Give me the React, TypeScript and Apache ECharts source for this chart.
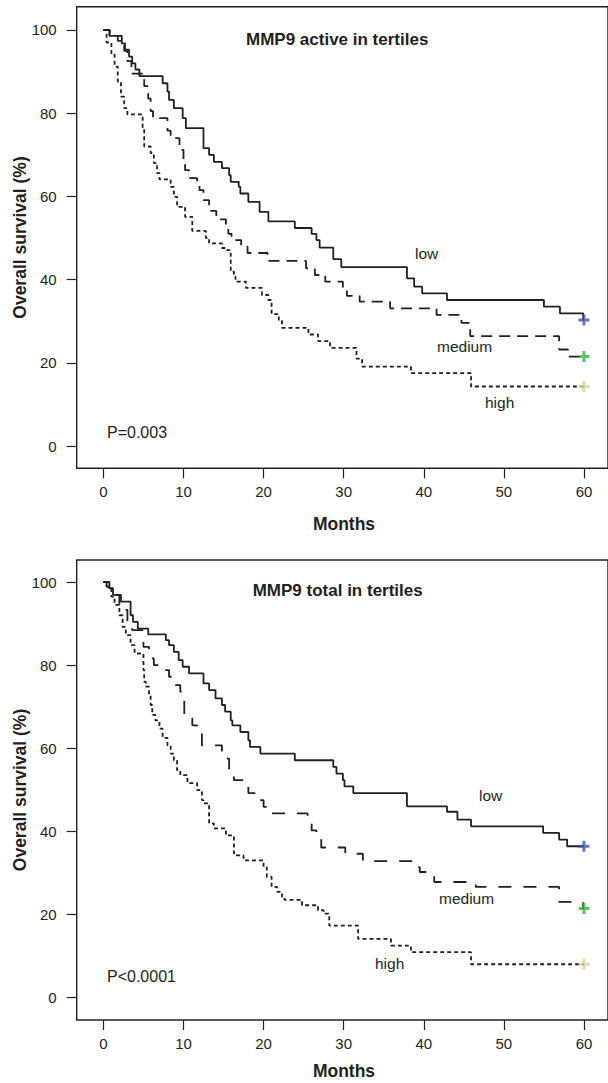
import React, { useEffect, useRef } from "react";
import * as echarts from "echarts";

// ---------- data (months, survival %) ----------
const xTicks = [0, 10, 20, 30, 40, 50, 60];
const yTicks = [0, 20, 40, 60, 80, 100];
const followUpEnd = 60;

// Top panel: MMP9 active in tertiles
const activeLowMonths = [0, 0.75, 2.3, 2.7, 3.2, 3.6, 4.0, 4.5, 7.4, 8.0, 8.2, 8.8, 9.9, 10.3, 12.5, 13.2, 13.8, 14.8, 15.7, 15.9, 16.9, 17.1, 18.1, 19.5, 20.6, 23.9, 26.0, 26.6, 27.0, 28.7, 29.7, 37.9, 38.8, 39.8, 42.9, 55.0, 57.0, 59.9];
const activeLowSurv = [100, 98.6, 96.8, 95.3, 93.6, 92.0, 90.5, 88.9, 87.2, 85.2, 83.2, 81.2, 78.8, 76.4, 71.6, 70.0, 68.3, 66.8, 65.1, 63.5, 62.3, 60.7, 58.7, 56.3, 54.0, 52.4, 51.0, 49.5, 47.7, 44.9, 43.0, 40.3, 38.3, 36.7, 35.1, 33.5, 31.9, 30.3];

const activeMedMonths = [0, 0.8, 1.8, 2.6, 3.0, 3.5, 5.1, 5.6, 5.9, 6.2, 8.0, 8.4, 9.5, 10.0, 10.2, 10.7, 11.7, 12.0, 12.5, 13.2, 14.1, 15.3, 15.6, 16.0, 17.2, 18.0, 20.5, 25.3, 26.4, 27.7, 29.9, 30.4, 32.0, 35.8, 41.6, 44.7, 45.8, 56.9, 58.0];
const activeMedSurv = [100, 98.6, 97.4, 95.0, 92.5, 89.5, 86.5, 83.5, 80.5, 78.8, 75.8, 74.0, 71.2, 68.5, 66.3, 64.4, 62.7, 61.5, 59.1, 56.5, 54.5, 52.5, 51.0, 49.5, 47.9, 46.4, 44.5, 42.7, 41.1, 39.5, 37.8, 36.1, 34.7, 33.1, 31.5, 29.6, 26.4, 23.2, 21.5];

const activeHighMonths = [0, 0.4, 1.0, 1.4, 1.8, 2.2, 2.6, 3.0, 4.9, 5.1, 5.9, 6.3, 6.7, 7.0, 8.4, 8.8, 9.2, 10.2, 11.1, 12.8, 13.2, 14.8, 15.4, 15.9, 16.3, 16.5, 17.8, 19.8, 20.6, 21.0, 21.9, 22.3, 25.6, 26.8, 28.3, 31.6, 32.3, 38.4, 45.9];
const activeHighSurv = [100, 97.0, 94.4, 91.2, 87.6, 84.0, 81.2, 79.7, 76.0, 72.0, 70.4, 68.0, 65.6, 64.1, 62.3, 59.9, 57.5, 55.1, 51.7, 50.0, 48.7, 47.6, 47.1, 41.9, 40.7, 39.5, 38.0, 36.3, 35.1, 31.7, 30.3, 28.4, 26.8, 25.2, 23.6, 21.0, 19.1, 17.5, 14.3];

// Bottom panel: MMP9 total in tertiles
const totalLowMonths = [0, 0.75, 1.2, 2.2, 3.4, 3.7, 4.3, 5.6, 7.8, 8.2, 8.8, 9.4, 9.9, 10.7, 12.5, 13.2, 14.0, 14.8, 15.2, 15.9, 16.1, 17.1, 18.1, 18.3, 19.6, 23.9, 28.7, 29.1, 29.9, 30.1, 31.2, 37.9, 42.9, 44.2, 45.9, 54.9, 56.9, 57.9];
const totalLowSurv = [100, 98.5, 96.9, 95.3, 92.0, 90.4, 88.8, 87.4, 86.0, 84.8, 83.2, 81.2, 79.6, 78.0, 75.6, 74.0, 72.0, 70.4, 68.8, 66.7, 65.5, 63.9, 61.9, 60.3, 58.7, 57.1, 55.5, 53.9, 52.3, 50.8, 49.2, 46.0, 44.7, 42.8, 41.2, 39.6, 38.0, 36.4];

const totalMedMonths = [0, 0.4, 0.75, 2.0, 2.4, 3.0, 3.6, 5.0, 5.7, 6.3, 7.7, 8.2, 9.0, 9.6, 10.1, 11.1, 11.7, 12.3, 14.8, 15.4, 15.7, 16.3, 17.5, 18.1, 19.1, 20.0, 21.0, 25.5, 26.0, 26.6, 27.2, 30.2, 32.4, 38.8, 39.5, 41.3, 46.5, 56.9, 59.9];
const totalMedSurv = [100, 98.9, 96.9, 94.5, 93.3, 89.6, 88.4, 84.4, 81.6, 80.0, 78.8, 77.2, 75.2, 73.6, 67.2, 65.5, 63.9, 60.7, 59.1, 57.5, 54.3, 52.3, 51.1, 49.2, 47.5, 45.9, 44.3, 43.0, 40.2, 38.3, 36.1, 34.6, 32.8, 31.4, 30.2, 27.8, 26.6, 23.0, 21.4];

const totalHighMonths = [0, 0.4, 1.0, 1.4, 2.0, 2.4, 2.8, 3.4, 3.9, 5.0, 5.1, 5.3, 5.7, 5.9, 6.1, 6.5, 7.0, 7.4, 8.0, 8.4, 8.8, 9.2, 9.6, 10.5, 11.7, 12.3, 12.5, 13.2, 13.8, 15.3, 16.3, 16.5, 17.5, 20.0, 20.4, 21.0, 21.7, 22.3, 22.6, 24.8, 26.8, 27.5, 28.2, 31.8, 35.9, 38.4, 45.9];
const totalHighSurv = [100, 98.9, 96.5, 94.5, 92.0, 89.2, 87.2, 84.8, 82.8, 78.8, 76.0, 74.8, 72.8, 70.4, 68.0, 66.7, 64.7, 62.5, 60.7, 58.7, 57.1, 54.7, 53.5, 51.6, 49.9, 47.5, 46.7, 41.9, 40.7, 39.0, 34.7, 34.2, 33.0, 31.4, 29.0, 26.6, 25.4, 24.2, 23.5, 22.2, 21.0, 20.2, 17.3, 14.1, 12.5, 10.9, 8.0];

const groupNames = ["low", "medium", "high"];
const censorColors = ["#3a5ba8", "#3bb24a", "#d6d29c"];

const INK = "#231f20";
const FONT = "Liberation Sans, Arial, sans-serif";
const PLUS = "path://M4,0H7V4H11V7H7V11H4V7H0V4H4Z";

function steps(ts: number[], ss: number[], end: number) {
  const pts: number[][] = [[ts[0], ss[0]]];
  for (let i = 1; i < ts.length; i++) {
    pts.push([ts[i], ss[i - 1]]);
    pts.push([ts[i], ss[i]]);
  }
  pts.push([end, ss[ss.length - 1]]);
  return pts;
}

export default function App() {
  const ref = useRef<HTMLDivElement>(null);
  useEffect(() => {
    if (!ref.current) return;
    const chart = echarts.init(ref.current, null, { renderer: "svg" });

    const panels = [
      { curves: [[activeLowMonths, activeLowSurv], [activeMedMonths, activeMedSurv], [activeHighMonths, activeHighSurv]], top: 6.7, height: 461.6, ymin: -5.36, ymax: 105.6, medDash: [11, 7] },
      { curves: [[totalLowMonths, totalLowSurv], [totalMedMonths, totalMedSurv], [totalHighMonths, totalHighSurv]], top: 560, height: 460, ymin: -5.42, ymax: 105.3, medDash: [13, 12] },
    ];

    const grid: any[] = [];
    const xAxis: any[] = [];
    const yAxis: any[] = [];
    const series: any[] = [];

    panels.forEach((p, pi) => {
      grid.push({ left: 76.7, top: p.top, width: 534.5, height: p.height, show: true, borderColor: INK, borderWidth: 1.4, backgroundColor: "transparent" });
      xAxis.push({
        type: "value", gridIndex: pi, min: -3.33, max: 63, position: "bottom",
        axisLine: { show: false, onZero: false },
        splitLine: { show: false },
        axisTick: { show: true, inside: false, length: 10, customValues: xTicks, lineStyle: { color: INK, width: 1.2 } },
        axisLabel: { customValues: xTicks, fontSize: 15, color: INK, fontFamily: FONT, margin: 16 },
      });
      yAxis.push({
        type: "value", gridIndex: pi, min: p.ymin, max: p.ymax, position: "left",
        axisLine: { show: false, onZero: false },
        splitLine: { show: false },
        axisTick: { show: true, inside: false, length: 10, customValues: yTicks, lineStyle: { color: INK, width: 1.2 } },
        axisLabel: { customValues: yTicks, fontSize: 15, color: INK, fontFamily: FONT, margin: 20 },
      });
      const dashes: any[] = ["solid", p.medDash, [4, 3]];
      const widths = [1.8, 1.8, 1.8];
      p.curves.forEach((c, ci) => {
        const ts = c[0] as number[];
        const ss = c[1] as number[];
        series.push({
          type: "line", name: groupNames[ci], xAxisIndex: pi, yAxisIndex: pi,
          data: steps(ts, ss, followUpEnd), showSymbol: false, symbol: "none",
          lineStyle: { color: INK, width: widths[ci], type: dashes[ci] },
          z: 3,
        });
        series.push({
          type: "scatter", xAxisIndex: pi, yAxisIndex: pi,
          data: [[followUpEnd, ss[ss.length - 1]]],
          symbol: PLUS, symbolSize: 11,
          itemStyle: { color: censorColors[ci] }, z: 5,
        });
      });
    });

    const txt = (text: string, x: number, y: number, size: number, bold: boolean, align = "left", rotation = 0) => ({
      type: "text", x, y, rotation,
      style: { text, fill: INK, fontSize: size, fontWeight: bold ? "bold" : "normal", fontFamily: FONT, align, verticalAlign: "middle" },
    });

    chart.setOption({
      animation: false,
      backgroundColor: "#ffffff",
      grid, xAxis, yAxis, series,
      graphic: [
        txt("MMP9 active in tertiles", 246, 39, 17, true),
        txt("low", 415, 253, 15.5, false),
        txt("medium", 437, 346, 15.5, false),
        txt("high", 485, 402, 15.5, false),
        txt("P=0.003", 107, 432, 16, false),
        txt("Months", 344, 524, 17.5, true, "center"),
        txt("Overall survival (%)", 20, 237.5, 17.5, true, "center", Math.PI / 2),
        txt("MMP9 total in tertiles", 252.7, 590, 17, true),
        txt("low", 479, 795, 15.5, false),
        txt("medium", 439, 898, 15.5, false),
        txt("high", 375, 963, 15.5, false),
        txt("P<0.0001", 107, 976, 16, false),
        txt("Months", 344, 1071, 17.5, true, "center"),
        txt("Overall survival (%)", 20, 790, 17.5, true, "center", Math.PI / 2),
      ],
    });
    return () => chart.dispose();
  }, []);
  return <div ref={ref} style={{ position: "fixed", left: 0, top: 0, width: 608, height: 1083 }} />;
}
